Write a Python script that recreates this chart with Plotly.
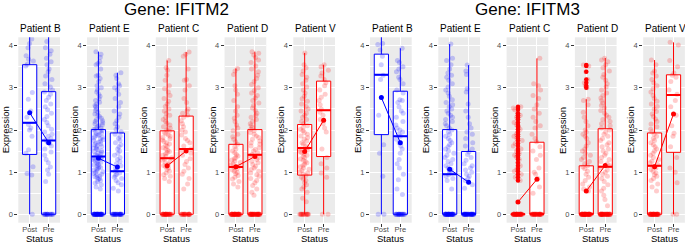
import plotly.graph_objects as go

# ---------------- data ----------------
genes = ["Gene: IFITM2", "Gene: IFITM3"]
patients = ["Patient B", "Patient E", "Patient C", "Patient D", "Patient V"]
status = ["Post", "Pre"]
patient_colors = ["#0000FF", "#0000FF", "#FF0000", "#FF0000", "#FF0000"]
patient_fills = ["rgba(0,0,255,0.2)", "rgba(0,0,255,0.2)", "rgba(255,0,0,0.2)",
                 "rgba(255,0,0,0.2)", "rgba(255,0,0,0.2)"]

# IFITM2 non-zero expression values per patient / status
ifitm2_B_post = [4.60, 4.35, 4.16, 4.05, 3.95, 3.76, 3.68, 3.64, 3.56, 3.52, 2.89, 2.73, 2.45,
                 2.30, 2.13, 2.05, 2.00, 1.85, 1.53, 1.45, 1.13, 0.97, 0.93]
ifitm2_B_pre = [4.35, 4.10, 3.95, 3.88, 3.80, 3.70, 3.62, 3.55, 3.45, 3.38, 3.28, 3.20, 3.10,
                3.02, 2.95, 2.90, 2.85, 2.78, 2.70, 2.62, 2.55, 2.48, 2.40, 2.32, 2.25, 2.18,
                2.10, 2.02, 1.95, 1.90, 1.85, 1.80, 1.76, 1.72, 1.68, 1.62, 1.55, 1.48, 1.40,
                1.30, 1.22, 1.12, 1.05, 0.95, 0.78]
ifitm2_E_post = [3.86, 3.80, 3.72, 3.62, 3.58, 3.55, 3.45, 3.30, 3.28, 3.22, 3.15, 3.05, 3.00,
                 2.95, 2.90, 2.85, 2.80, 2.74, 2.70, 2.66, 2.62, 2.58, 2.55, 2.50, 2.46, 2.42,
                 2.38, 2.35, 2.32, 2.28, 2.25, 2.22, 2.20, 2.17, 2.15, 2.12, 2.10, 2.08, 2.05,
                 2.03, 2.01, 1.99, 1.97, 1.95, 1.93, 1.91, 1.89, 1.87, 1.85, 1.83, 1.81, 1.79,
                 1.77, 1.75, 1.73, 1.71, 1.69, 1.67, 1.65, 1.63, 1.61, 1.59, 1.57, 1.55, 1.53,
                 1.51, 1.49, 1.47, 1.45, 1.43, 1.41, 1.39, 1.37, 1.35, 1.33, 1.31, 1.29, 1.27,
                 1.25, 1.23, 1.21, 1.19, 1.17, 1.15, 1.13, 1.11, 1.09, 1.07, 1.05, 1.03, 1.01,
                 0.99, 0.97, 0.95, 0.93, 0.91, 0.89, 0.87, 0.85, 0.83, 0.80, 0.77, 0.74, 0.70,
                 0.65, 0.60]
ifitm2_E_pre = [3.36, 3.30, 3.22, 3.10, 3.05, 3.00, 2.95, 2.85, 2.75, 2.65, 2.55, 2.45, 2.38,
                2.30, 2.22, 2.15, 2.08, 2.02, 1.96, 1.90, 1.85, 1.80, 1.75, 1.70, 1.65, 1.60,
                1.55, 1.50, 1.45, 1.40, 1.35, 1.30, 1.25, 1.20, 1.15, 1.10, 1.05, 1.02, 0.98,
                0.95, 0.92, 0.88, 0.85, 0.80, 0.75, 0.70, 0.62, 0.55]
ifitm2_C_post = [3.65, 3.48, 3.42, 3.30, 3.18, 3.05, 2.98, 2.90, 2.82, 2.75, 2.68, 2.62, 2.56,
                 2.50, 2.45, 2.40, 2.35, 2.30, 2.25, 2.20, 2.16, 2.12, 2.08, 2.04, 2.00, 1.97,
                 1.94, 1.91, 1.88, 1.85, 1.82, 1.79, 1.76, 1.73, 1.70, 1.67, 1.64, 1.61, 1.58,
                 1.55, 1.52, 1.49, 1.46, 1.43, 1.40, 1.37, 1.34, 1.31, 1.28, 1.25, 1.22, 1.19,
                 1.16, 1.13, 1.10, 1.06, 1.02, 0.98, 0.94, 0.90, 0.85, 0.78]
ifitm2_C_pre = [3.85, 3.80, 3.75, 3.45, 3.20, 3.18, 3.05, 2.95, 2.75, 2.65, 2.50, 2.45, 2.40,
                2.35, 2.30, 2.22, 2.15, 2.08, 2.00, 1.95, 1.88, 1.80, 1.75, 1.70, 1.62, 1.55,
                1.50, 1.45, 1.40, 1.32, 1.25, 1.18, 1.10, 1.02, 0.95, 0.85, 0.72, 0.60]
ifitm2_D_post = [3.46, 3.40, 3.32, 3.05, 2.95, 2.85, 2.70, 2.55, 2.45, 2.35, 2.28, 2.20, 2.12,
                 2.05, 1.98, 1.90, 1.84, 1.78, 1.72, 1.66, 1.60, 1.55, 1.50, 1.46, 1.42, 1.38,
                 1.35, 1.32, 1.29, 1.26, 1.23, 1.20, 1.17, 1.14, 1.11, 1.08, 1.05, 1.02, 0.99,
                 0.96, 0.92, 0.88, 0.84, 0.78, 0.72, 0.65]
ifitm2_D_pre = [3.86, 3.82, 3.78, 3.72, 3.66, 3.60, 3.52, 3.45, 3.38, 3.30, 3.22, 3.15, 3.08,
                3.00, 2.94, 2.88, 2.82, 2.76, 2.70, 2.64, 2.58, 2.52, 2.46, 2.40, 2.35, 2.30,
                2.25, 2.20, 2.15, 2.10, 2.06, 2.02, 1.98, 1.94, 1.90, 1.86, 1.82, 1.78, 1.74,
                1.70, 1.66, 1.62, 1.58, 1.54, 1.50, 1.46, 1.42, 1.38, 1.34, 1.30, 1.26, 1.22,
                1.18, 1.14, 1.10, 1.06, 1.02, 0.98, 0.94, 0.90, 0.85, 0.80, 0.75, 0.68, 0.60,
                0.52, 0.45]
ifitm2_V_post = [3.83, 3.55, 3.48, 3.40, 3.32, 3.25, 3.18, 3.10, 3.02, 2.95, 2.88, 2.80, 2.74,
                 2.68, 2.62, 2.56, 2.50, 2.45, 2.40, 2.35, 2.30, 2.25, 2.20, 2.15, 2.10, 2.06,
                 2.02, 1.98, 1.94, 1.90, 1.86, 1.82, 1.78, 1.74, 1.70, 1.66, 1.62, 1.58, 1.55,
                 1.52, 1.49, 1.46, 1.43, 1.40, 1.37, 1.34, 1.31, 1.28, 1.25, 1.22, 1.19, 1.16,
                 1.13, 1.10, 1.07, 1.04, 1.01, 0.98, 0.95, 0.92, 0.88, 0.84, 0.80, 0.75, 0.70,
                 0.65, 0.60, 0.52, 0.38, 0.30]
ifitm2_V_pre = [3.55, 3.50, 3.42, 3.35, 3.28, 3.20, 3.12, 3.05, 2.95, 2.85, 2.78, 2.70, 2.60,
                2.50, 2.42, 2.35, 2.25, 2.15, 2.05, 1.95, 1.55, 1.35, 1.20, 1.10, 0.98, 0.88]
ifitm2_zero_post = [1, 40, 30, 40, 15]
ifitm2_zero_pre = [16, 25, 20, 40, 2]

# IFITM3 non-zero expression values per patient / status
ifitm3_B_post = [4.30, 4.05, 4.03, 3.90, 3.75, 3.55, 3.30, 3.20, 2.35, 1.65, 1.45, 0.90]
ifitm3_B_pre = [3.94, 3.65, 3.60, 3.50, 3.45, 3.38, 3.25, 3.20, 3.10, 2.95, 2.88, 2.72, 2.70,
                2.65, 2.55, 2.45, 2.40, 2.30, 2.20, 2.12, 2.05, 2.00, 1.95, 1.90, 1.85, 1.78,
                1.70, 1.62, 1.55, 1.45, 1.30, 1.20, 1.10, 0.95, 0.82, 0.60, 0.47]
ifitm3_E_post = [4.04, 3.70, 3.65, 3.55, 3.45, 3.35, 3.30, 3.25, 3.18, 3.10, 3.02, 2.95, 2.88,
                 2.80, 2.72, 2.65, 2.60, 2.55, 2.50, 2.45, 2.40, 2.35, 2.30, 2.25, 2.20, 2.15,
                 2.10, 2.05, 2.00, 1.95, 1.90, 1.85, 1.80, 1.75, 1.70, 1.65, 1.60, 1.55, 1.50,
                 1.45, 1.40, 1.35, 1.30, 1.25, 1.20, 1.15, 1.10, 1.06, 1.02, 0.98, 0.94, 0.90,
                 0.85, 0.80, 0.60]
ifitm3_E_pre = [3.54, 3.40, 3.32, 2.98, 2.90, 2.62, 2.45, 2.30, 2.15, 2.05, 1.95, 1.90, 1.80,
                1.70, 1.62, 1.55, 1.48, 1.42, 1.35, 1.28, 1.20, 1.15, 1.10, 1.05, 1.00, 0.95,
                0.90, 0.85, 0.80, 0.70, 0.62]
ifitm3_C_post = [2.55, 2.52, 2.48, 2.40, 2.35, 2.30, 2.25, 2.18, 2.12, 2.08, 2.02, 1.95, 1.90,
                 1.85, 1.80, 1.75, 1.68, 1.62, 1.55, 1.50, 1.45, 1.40, 1.36, 1.30, 1.22, 1.15,
                 1.08, 1.02, 0.95, 0.88, 0.80]
ifitm3_C_pre = [3.70, 3.10, 3.05, 2.95, 2.82, 2.75, 2.60, 2.50, 2.40, 2.30, 2.20, 2.10, 2.05,
                1.90, 1.80, 1.72, 1.60, 1.50, 1.40, 1.30, 1.10, 1.00, 0.95, 0.85, 0.65, 0.50]
ifitm3_D_post = [3.54, 3.52, 3.38, 3.20, 3.12, 3.05, 3.00, 2.73, 2.70, 2.60, 2.42, 2.30, 2.20,
                 2.10, 2.00, 1.95, 1.90, 1.85, 1.80, 1.70, 1.62, 1.55, 1.50, 1.45, 1.40, 1.35,
                 1.30, 1.25, 1.20, 1.15, 1.12, 1.08, 1.02, 0.95, 0.88, 0.80, 0.72, 0.65, 0.60,
                 0.55]
ifitm3_D_pre = [3.70, 3.66, 3.62, 3.55, 3.48, 3.40, 3.32, 3.25, 3.18, 3.10, 3.02, 2.95, 2.88,
                2.82, 2.76, 2.70, 2.64, 2.58, 2.52, 2.46, 2.40, 2.35, 2.30, 2.25, 2.20, 2.15,
                2.10, 2.05, 2.00, 1.95, 1.90, 1.85, 1.80, 1.75, 1.70, 1.65, 1.60, 1.55, 1.50,
                1.45, 1.40, 1.35, 1.30, 1.25, 1.20, 1.15, 1.10, 1.05, 1.00, 0.95, 0.90, 0.85,
                0.78, 0.70, 0.62, 0.55, 0.45, 0.35, 0.20]
ifitm3_V_post = [3.66, 3.55, 3.40, 3.35, 3.28, 3.20, 3.12, 3.05, 2.98, 2.90, 2.82, 2.75, 2.68,
                 2.62, 2.56, 2.50, 2.44, 2.38, 2.32, 2.26, 2.20, 2.14, 2.08, 2.02, 1.96, 1.90,
                 1.85, 1.80, 1.75, 1.70, 1.65, 1.60, 1.55, 1.50, 1.45, 1.40, 1.35, 1.30, 1.26,
                 1.22, 1.18, 1.14, 1.10, 1.06, 1.02, 0.98, 0.94, 0.90, 0.85, 0.80, 0.72, 0.65,
                 0.55]
ifitm3_V_pre = [4.08, 4.02, 3.65, 3.50, 3.35, 3.30, 3.25, 3.15, 2.95, 2.85, 2.70, 2.55, 2.35,
                2.10, 1.92, 1.85, 1.60, 1.35, 1.10, 1.00, 0.75]
ifitm3_zero_post = [2, 40, 40, 50, 40]
ifitm3_zero_pre = [20, 35, 30, 45, 2]

# box statistics (order: B, E, C, D, V)
ifitm2_q1_post = [1.42, 0.0, 0.0, 0.0, 0.93]
ifitm2_med_post = [2.17, 1.37, 1.33, 1.12, 1.57]
ifitm2_q3_post = [3.55, 2.01, 1.98, 1.66, 2.13]
ifitm2_lo_post = [0.0, 0.0, 0.0, 0.0, 0.0]
ifitm2_hi_post = [4.60, 3.86, 3.65, 3.46, 3.83]
ifitm2_mean_post = [2.41, 1.33, 1.15, 1.13, 1.49]
ifitm2_q1_pre = [0.0, 0.0, 0.0, 0.0, 1.37]
ifitm2_med_pre = [1.75, 1.02, 1.55, 1.41, 2.47]
ifitm2_q3_pre = [2.91, 1.93, 2.33, 2.01, 3.16]
ifitm2_lo_pre = [0.0, 0.0, 0.0, 0.0, 0.0]
ifitm2_hi_pre = [4.35, 3.36, 3.85, 3.86, 3.55]
ifitm2_mean_pre = [1.70, 1.12, 1.50, 1.37, 2.23]

ifitm3_q1_post = [1.89, 0.0, 0.0, 0.0, 0.0]
ifitm3_med_post = [3.31, 0.95, 0.0, 0.0, 1.15]
ifitm3_q3_post = [3.80, 2.01, 0.0, 1.15, 1.93]
ifitm3_lo_post = [0.0, 0.0, 0.0, 0.0, 0.0]
ifitm3_hi_post = [4.30, 4.04, 0.0, 2.73, 3.66]
ifitm3_mean_post = [2.77, 1.07, 0.29, 0.55, 1.13]
ifitm3_q1_pre = [0.0, 0.0, 0.0, 0.0, 1.47]
ifitm3_med_pre = [1.85, 0.0, 0.0, 1.13, 2.83]
ifitm3_q3_pre = [2.92, 1.49, 1.71, 2.03, 3.31]
ifitm3_lo_pre = [0.0, 0.0, 0.0, 0.0, 0.0]
ifitm3_hi_pre = [3.94, 3.54, 3.70, 3.71, 4.08]
ifitm3_mean_pre = [1.70, 0.76, 0.83, 1.16, 2.38]

y_ticks = [0, 1, 2, 3, 4]

# ---------------- assemble ----------------
gene_data = [
    dict(post=[ifitm2_B_post, ifitm2_E_post, ifitm2_C_post, ifitm2_D_post, ifitm2_V_post],
         pre=[ifitm2_B_pre, ifitm2_E_pre, ifitm2_C_pre, ifitm2_D_pre, ifitm2_V_pre],
         zpost=ifitm2_zero_post, zpre=ifitm2_zero_pre,
         q1=(ifitm2_q1_post, ifitm2_q1_pre), med=(ifitm2_med_post, ifitm2_med_pre),
         q3=(ifitm2_q3_post, ifitm2_q3_pre), lo=(ifitm2_lo_post, ifitm2_lo_pre),
         hi=(ifitm2_hi_post, ifitm2_hi_pre), mean=(ifitm2_mean_post, ifitm2_mean_pre)),
    dict(post=[ifitm3_B_post, ifitm3_E_post, ifitm3_C_post, ifitm3_D_post, ifitm3_V_post],
         pre=[ifitm3_B_pre, ifitm3_E_pre, ifitm3_C_pre, ifitm3_D_pre, ifitm3_V_pre],
         zpost=ifitm3_zero_post, zpre=ifitm3_zero_pre,
         q1=(ifitm3_q1_post, ifitm3_q1_pre), med=(ifitm3_med_post, ifitm3_med_pre),
         q3=(ifitm3_q3_post, ifitm3_q3_pre), lo=(ifitm3_lo_post, ifitm3_lo_pre),
         hi=(ifitm3_hi_post, ifitm3_hi_pre), mean=(ifitm3_mean_post, ifitm3_mean_pre)),
]

W, H = 685, 243
PANEL_W = 41.7
group_start = [18.3, 370.0]
group_step = [68.75, 68.3]
PLOT_TOP, PLOT_BOT = 37.3, 222.7
ydom = [(H - PLOT_BOT) / H, (H - PLOT_TOP) / H]
FONT = "Liberation Sans, Arial, sans-serif"
BOX_W = 0.75

fig = go.Figure()
layout = dict(width=W, height=H, margin=dict(l=0, r=0, t=0, b=0),
              paper_bgcolor="white", plot_bgcolor="#EBEBEB",
              showlegend=False, boxmode="overlay", font=dict(family=FONT))
annotations = []

k = 0
for g, gd in enumerate(gene_data):
    lefts = []
    for p in range(5):
        k += 1
        sfx = "" if k == 1 else str(k)
        xa, ya = "x" + sfx, "y" + sfx
        left = group_start[g] + group_step[g] * p
        lefts.append(left)
        col = patient_colors[p]
        fcol = patient_fills[p]
        samples = [gd["post"][p], gd["pre"][p]]
        zeros = [gd["zpost"][p], gd["zpre"][p]]

        # box with precomputed statistics
        fig.add_trace(go.Box(
            x=[0, 1], q1=[gd["q1"][0][p], gd["q1"][1][p]],
            median=[gd["med"][0][p], gd["med"][1][p]],
            q3=[gd["q3"][0][p], gd["q3"][1][p]],
            lowerfence=[gd["lo"][0][p], gd["lo"][1][p]],
            upperfence=[gd["hi"][0][p], gd["hi"][1][p]],
            width=BOX_W, whiskerwidth=0, boxpoints=False,
            fillcolor="white", line=dict(color=col, width=1),
            xaxis=xa, yaxis=ya, hoverinfo="skip"))

        # jittered raw points (non-zero and zero separately)
        nz_x, nz_y, z_x, z_y = [], [], [], []
        for s in range(2):
            nz_x += [s] * len(samples[s])
            nz_y += samples[s]
            z_x += [s] * zeros[s]
            z_y += [0.0] * zeros[s]
        for xs, ys in ((nz_x, nz_y), (z_x, z_y)):
            fig.add_trace(go.Box(
                x=xs, y=ys, width=BOX_W, boxpoints="all", jitter=0.7, pointpos=0,
                fillcolor="rgba(0,0,0,0)", line=dict(color="rgba(0,0,0,0)", width=0),
                marker=dict(color=fcol, size=5, line=dict(width=0)),
                xaxis=xa, yaxis=ya, hoverinfo="skip"))

        # thick median line
        for s in range(2):
            m = gd["med"][s][p]
            fig.add_trace(go.Scatter(
                x=[s - BOX_W / 2, s + BOX_W / 2], y=[m, m], mode="lines",
                line=dict(color=col, width=2), xaxis=xa, yaxis=ya, hoverinfo="skip"))

        # outliers
        ox, oy = [], []
        for s in range(2):
            for v in samples[s]:
                if v > gd["hi"][s][p] + 1e-9 or v < gd["lo"][s][p] - 1e-9:
                    ox.append(s)
                    oy.append(v)
        if ox:
            fig.add_trace(go.Scatter(
                x=ox, y=oy, mode="markers", marker=dict(color=col, size=4.5),
                xaxis=xa, yaxis=ya, hoverinfo="skip"))

        # means
        fig.add_trace(go.Scatter(
            x=[0, 1], y=[gd["mean"][0][p], gd["mean"][1][p]], mode="lines+markers",
            line=dict(color=col, width=1), marker=dict(color=col, size=5),
            xaxis=xa, yaxis=ya, hoverinfo="skip"))

        layout["xaxis" + sfx] = dict(
            domain=[left / W, (left + PANEL_W) / W], anchor=ya,
            range=[-0.6, 1.6], tickvals=[0, 1], ticktext=status,
            showgrid=True, gridcolor="white", gridwidth=1, zeroline=False,
            ticks="outside", ticklen=3, tickcolor="#333333", tickwidth=1,
            ticklabelstandoff=-4,
            tickfont=dict(size=7.5, color="#4D4D4D", family=FONT), showline=False,
            fixedrange=True)
        layout["yaxis" + sfx] = dict(
            domain=ydom, anchor=xa, range=[-0.2, 4.2], tickvals=y_ticks,
            showgrid=True, gridcolor="white", gridwidth=1, zeroline=False,
            ticks="outside", ticklen=3, tickcolor="#333333", tickwidth=1,
            tickfont=dict(size=7.5, color="#4D4D4D", family=FONT), showline=False,
            minor=dict(tickvals=[0.5, 1.5, 2.5, 3.5], showgrid=True, gridcolor="white",
                       gridwidth=0.5, ticks=""),
            fixedrange=True)

        annotations.append(dict(
            text=patients[p], x=left / W, y=(H - 28) / H, xref="paper", yref="paper",
            xanchor="left", yanchor="middle", showarrow=False,
            font=dict(size=10, color="black", family=FONT)))
        annotations.append(dict(
            text="Expression", x=(left - 13) / W, y=(ydom[0] + ydom[1]) / 2,
            xref="paper", yref="paper", xanchor="center", yanchor="middle",
            textangle=-90, showarrow=False, font=dict(size=9.5, color="black", family=FONT)))
        annotations.append(dict(
            text="Status", x=(left + PANEL_W / 2) / W, y=(H - 238.5) / H,
            xref="paper", yref="paper", xanchor="center", yanchor="middle",
            showarrow=False, font=dict(size=9.5, color="black", family=FONT)))

    center = (lefts[0] + lefts[-1] + PANEL_W) / 2
    annotations.append(dict(
        text=genes[g], x=center / W, y=(H - 9) / H, xref="paper", yref="paper",
        xanchor="center", yanchor="middle", showarrow=False,
        font=dict(size=17, color="black", family=FONT)))

layout["annotations"] = annotations
fig.update_layout(**layout)
fig.write_html("out.html", config={"displayModeBar": False},
               post_script="document.body.style.margin='0';document.body.style.padding='0';")
